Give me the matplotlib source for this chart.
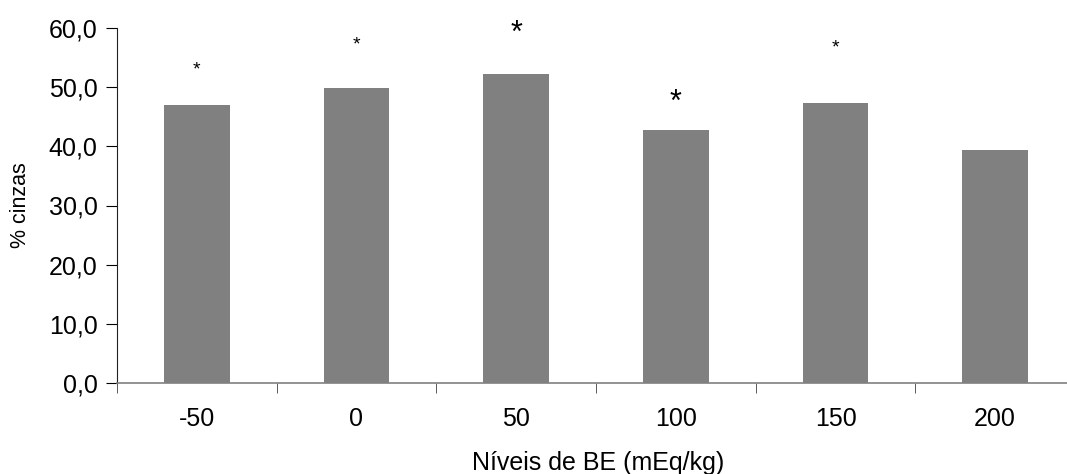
import numpy as np
import matplotlib.pyplot as plt

plt.rcParams['font.family'] = ['Liberation Sans', 'DejaVu Sans']

niveis = ["-50", "0", "50", "100", "150", "200"]
cinzas = [47.0, 49.8, 52.2, 42.8, 47.3, 39.4]
# asterisks: height (in % units) and size (small / large)
ast_y = [52.9, 57.1, 59.0, 47.3, 56.6, None]
ast_big = [False, False, True, True, False, False]

fig = plt.figure(figsize=(10.67, 4.74), dpi=100)
ax = fig.add_axes([117 / 1067, 1 - 383 / 474, (1075 - 117) / 1067, 355 / 474])

x = np.arange(len(niveis))
ax.bar(x, cinzas, width=0.41, color="#808080", zorder=2)

for xi, yi, big in zip(x, ast_y, ast_big):
    if yi is None:
        continue
    ax.text(xi, yi, "*", ha="center", va="center",
            fontsize=22 if big else 14, color="black")

ax.set_xlim(-0.5, 5.5)
ax.set_ylim(0, 60)
ax.set_yticks(np.arange(0, 61, 10))
ax.set_yticklabels([f"{v:.1f}".replace(".", ",") for v in np.arange(0, 61, 10)])

ax.set_xticks(x)
ax.set_xticklabels(niveis)
ax.set_xticks(np.arange(-0.5, 6, 1), minor=True)
ax.tick_params(axis="x", which="major", length=0, pad=17, labelsize=18)
ax.tick_params(axis="x", which="minor", length=7, direction="out", color="#404040")
ax.tick_params(axis="y", length=8, direction="out", labelsize=18, pad=6)

for s in ["top", "right"]:
    ax.spines[s].set_visible(False)
ax.spines["left"].set_color("#202020")
ax.spines["bottom"].set_color("#808080")
ax.spines["bottom"].set_linewidth(1.2)

# x label sits at the very bottom of the figure
fig.text(598 / 1067, 4 / 474, "Níveis de BE (mEq/kg)", fontsize=18,
         ha="center", va="baseline")
fig.text(21 / 1067, 1 - 205 / 474, "% cinzas", fontsize=15.5,
         rotation=90, ha="center", va="center")

fig.savefig("out.png", dpi=100)
